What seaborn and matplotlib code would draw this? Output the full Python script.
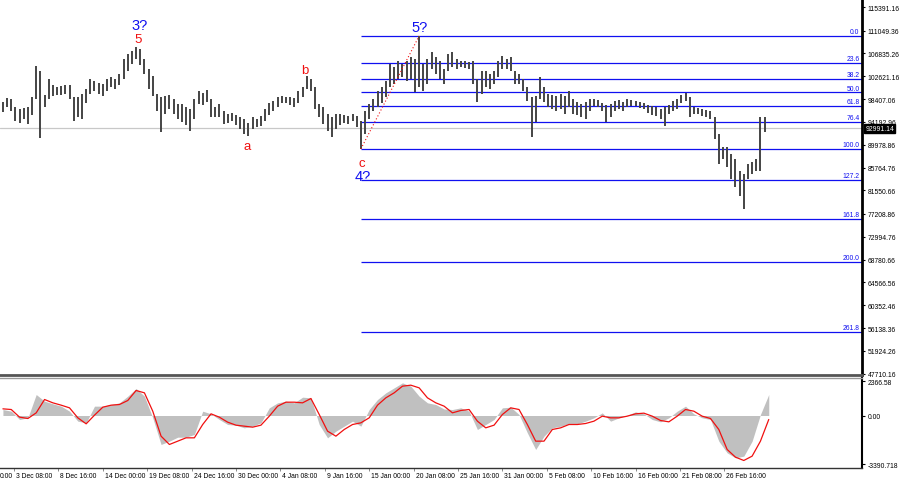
import numpy as np
import matplotlib
matplotlib.use('Agg')
import matplotlib.pyplot as plt
import matplotlib.transforms as mtransforms
import seaborn as sns

# 12h bars, the first one on 2 Dec 00:00 (day 4 counted from 28 Nov 00:00)
bar_high = [97860, 98600, 98420, 96940, 96570, 96750, 96940, 98780, 104510, 103580,
            99150, 102110, 101000, 100630, 100820, 101000, 101000, 98780, 98780, 99340,
            100260, 102110, 101740, 101370, 101180, 102110, 102480, 102110, 103030, 105800,
            106720, 107280, 108010, 107650, 105800, 103950, 102660, 99340, 98780, 98970,
            99150, 98420, 97490, 97490, 96940, 96570, 98420, 99890, 99520, 100080,
            98420, 96940, 97490, 96200, 95650, 95830, 95460, 95090, 94720, 93980,
            95090, 94720, 95280, 96570, 97680, 98050, 98780, 98970, 98780, 98780,
            98600, 99890, 100630, 102660, 102110, 100630, 97490, 96940, 95650, 95090,
            95650, 95650, 95460, 95280, 95650, 95280, 94350, 96200, 97490, 98420,
            99890, 100630, 101740, 104880, 104320, 105430, 104880, 105430, 106170, 105800,
            110050, 104880, 105800, 107090, 106170, 105430, 103950, 106720, 107090, 105800,
            105430, 105430, 105250, 105430, 102110, 103580, 103580, 103030, 103580, 105430,
            106350, 105800, 106170, 103580, 103030, 102110, 100630, 98780, 98970, 102480,
            100630, 99340, 99150, 98970, 99340, 98970, 99890, 98420, 97860, 97490,
            97860, 98420, 98420, 98230, 97680, 97310, 97490, 98050, 98230, 97860,
            98420, 98230, 98050, 97860, 97680, 97310, 97120, 96940, 96570, 96940,
            97310, 98050, 98420, 99150, 99520, 98780, 96940, 96750, 96570, 96380,
            96200, 95090, 91950, 89550, 89550, 88260, 87340, 85120, 84570, 86420,
            86790, 87340, 95090, 95090]
bar_low = [96020, 96940, 96200, 94350, 93980, 94720, 93800, 95460, 98420, 91220,
           96940, 98420, 98970, 99150, 99150, 99340, 98420, 94350, 95090, 94720,
           97680, 99340, 99890, 99340, 98970, 99890, 100630, 100260, 101000, 102110,
           103580, 104880, 105800, 104690, 103030, 100260, 98970, 96200, 92320, 95650,
           96570, 95650, 94720, 94170, 93620, 92510, 94720, 97490, 97310, 97860,
           95090, 95090, 95090, 93800, 93980, 94350, 93620, 92880, 91950, 91590,
           92880, 93250, 93430, 94350, 95460, 96200, 96940, 97680, 97680, 97310,
           96940, 97680, 98780, 100260, 99890, 96570, 95090, 93800, 92510, 91400,
           92880, 93620, 93980, 93800, 94350, 93250, 89190, 91950, 94720, 96200,
           96940, 97680, 98780, 100630, 101180, 102110, 102480, 101740, 102110, 99710,
           100630, 99890, 101180, 103950, 103030, 102110, 101180, 103580, 104320, 103950,
           104320, 104140, 103950, 101180, 97860, 99340, 100630, 100260, 101180, 102480,
           103950, 103950, 103580, 101180, 101180, 99890, 98050, 91400, 94170, 98420,
           97860, 96940, 96570, 96200, 96570, 95650, 96940, 95650, 95460, 95090,
           94720, 96200, 97120, 96940, 96200, 94170, 95090, 96200, 96570, 96200,
           96940, 97120, 97120, 96750, 96570, 95830, 95460, 95280, 94720, 93430,
           95650, 96200, 96570, 97680, 98050, 95090, 95650, 95650, 95280, 95090,
           94720, 91030, 86420, 87340, 85860, 83650, 82170, 80510, 78110, 83650,
           84570, 85120, 85120, 92320]
last_close = 92991.14

fib_levels = [0.0, 23.6, 38.2, 50.0, 61.8, 76.4, 100.0, 127.2, 161.8, 200.0, 261.8]

# MACD, one reading per day starting 2 Dec
macd_hist = [416, 300, -277, -160, 1457, 995, 810, 648, 300, -393,
             -509, 648, 648, 763, 879, 1342, 1874, 1342, -162, -2012,
             -1781, -1504, -1504, -1318, 300, 116, -277, -625, -671, -856,
             -740, -509, 532, 879, 995, 879, 1272, 1226, -625, -1550,
             -1087, -740, -393, -740, 416, 1110, 1573, 1920, 2267, 2036,
             1342, 879, 763, 450, 416, 532, 300, -971, -625, -277,
             532, 578, 69, -1203, -2359, -1434, -856, -740, -578, -578,
             -393, -162, 185, -393, -162, 23, 254, 116, -277, -440,
             -162, 300, 648, 116, -162, -277, -1781, -2590, -2937, -2821,
             -1781, 69, 1457]
macd_signal = [462, 416, -115, -208, 185, 1110, 879, 717, 532, -162,
               -578, 23, 578, 717, 763, 1041, 1735, 1573, 300, -1434,
               -2012, -1781, -1550, -1550, -625, 116, -116, -463, -671, -740,
               -810, -671, -46, 648, 925, 925, 879, 1180, 69, -1087,
               -1434, -971, -625, -509, -162, 717, 1226, 1573, 2036, 2105,
               1920, 1226, 879, 648, 185, 347, 416, -393, -856, -671,
               69, 532, 416, -625, -1781, -1781, -971, -856, -625, -625,
               -555, -393, -46, -162, -162, -46, 116, 162, -46, -347,
               -440, -46, 416, 300, -46, -208, -971, -2359, -2891, -3122,
               -2821, -1781, -277]

price_ticks = [115391.16, 111049.36, 106835.26, 102621.16, 98407.06, 94192.96,
               89978.86, 85764.76, 81550.66, 77208.86, 72994.76, 68780.66,
               64566.56, 60352.46, 56138.36, 51924.26, 47710.16]
macd_ticks = [2366.58, 0.00, -3390.718]
macd_tick_labels = ['2366.58', '0.00', '-3390.718']

# the first label is cut by the left edge in the original, only its time shows
date_labels = ['0:00', '3 Dec 08:00', '8 Dec 16:00', '14 Dec 00:00', '19 Dec 08:00',
               '24 Dec 16:00', '30 Dec 00:00', '4 Jan 08:00', '9 Jan 16:00', '15 Jan 00:00',
               '20 Jan 08:00', '25 Jan 16:00', '31 Jan 00:00', '5 Feb 08:00', '10 Feb 16:00',
               '16 Feb 00:00', '21 Feb 08:00', '26 Feb 16:00']

sns.set_theme(style='white')
plt.rcParams['font.family'] = ['Liberation Sans', 'DejaVu Sans']

bar_days = 4 + 0.5 * np.arange(len(bar_high))
macd_days = 4 + np.arange(len(macd_hist))
date_days = 16 / 3 * np.arange(len(date_labels))

blue = '#1010f0'
red = '#f01010'
small = 4.9
x_start, x_end = 3.65, 107.2

fig = plt.figure(figsize=(9, 4.85), dpi=100)
fig.patch.set_facecolor('white')
ax = fig.add_axes([0, 1 - 376 / 485, 862 / 900, 376 / 485])
ax2 = fig.add_axes([0, 1 - 469 / 485, 862 / 900, 90 / 485], sharex=ax)

# price bars
ax.axhline(last_close, color='#c8c8c8', lw=0.9, zorder=1)
ax.vlines(bar_days, bar_low, bar_high, color='#444444', lw=1.4, zorder=3)

# fibonacci grid from wave 4? low to wave 5? high
i_lo, i_hi = 86, 100
lo, hi = bar_low[i_lo], bar_high[i_hi]
for lvl in fib_levels:
    p = hi - (hi - lo) * lvl / 100
    ax.hlines(p, bar_days[i_lo], x_end, color=blue, lw=0.9, zorder=2)
    ax.annotate(f'{lvl:.1f}', xy=(0.997, p), xycoords=('axes fraction', 'data'),
                xytext=(0, 0.6), textcoords='offset points', ha='right', va='bottom',
                fontsize=small, color=blue)
sns.lineplot(x=[bar_days[i_lo], bar_days[i_hi]], y=[lo, hi], ax=ax,
             color=red, lw=0.8, linestyle=(0, (1, 2)), zorder=4)

# wave labels
waves = [('3?', 32, 'high', blue, 2.5, 16, 10.5),
         ('5', 32, 'high', red, 1.5, 6, 9.5),
         ('b', 73, 'high', red, -1.5, 4.5, 9.5),
         ('a', 59, 'low', red, -1, -7.5, 9.5),
         ('c', 86, 'low', red, 0.5, -10, 9.5),
         ('4?', 86, 'low', blue, 1.5, -19.5, 10.5),
         ('5?', 100, 'high', blue, 0.5, 6.5, 10.5)]
for txt, i, side, col, dx, dy, fs in waves:
    yv = bar_high[i] if side == 'high' else bar_low[i]
    ax.annotate(txt, xy=(bar_days[i], yv), xytext=(dx, dy), textcoords='offset points',
                ha='center', va='center', fontsize=fs, color=col)

ax.set_xlim(x_start, x_end)
ax.set_ylim(47466, 116875)
ax.yaxis.tick_right()
ax.set_yticks(price_ticks)
ax.set_yticklabels([f'{v:.2f}' for v in price_ticks])
ax.tick_params(axis='y', length=2.5, width=0.8, pad=1.5, labelsize=small, colors='black', right=True)
ax.tick_params(axis='x', bottom=False, labelbottom=False)
for s in ['top', 'left']:
    ax.spines[s].set_visible(False)
ax.spines['right'].set_color('black')
ax.spines['right'].set_linewidth(2)
ax.spines['bottom'].set_color('#555555')
ax.spines['bottom'].set_linewidth(2)
ax.set_xlabel('')
ax.set_ylabel('')

# current price box
ax.text(1.004, last_close, f'{last_close:.2f}',
        transform=mtransforms.blended_transform_factory(ax.transAxes, ax.transData),
        ha='left', va='center', fontsize=small, color='white', clip_on=False,
        bbox=dict(boxstyle='square,pad=0.15', fc='black', ec='black'))

# MACD panel
ax2.fill_between(macd_days, 0, macd_hist, color='#c0c0c0', lw=0)
sns.lineplot(x=macd_days, y=macd_signal, ax=ax2, color=red, lw=0.9)
ax2.set_ylim(-3644, 2603)
ax2.yaxis.tick_right()
ax2.set_yticks(macd_ticks)
ax2.set_yticklabels(macd_tick_labels)
ax2.tick_params(axis='y', length=2.5, width=0.8, pad=1.5, labelsize=small, colors='black', right=True)
ax2.set_xticks(date_days[1:])
ax2.set_xticklabels([])
ax2.tick_params(axis='x', bottom=True, length=2.5, width=0.6, color='#777777')
ax2.spines['left'].set_visible(False)
ax2.spines['top'].set_color('#999999')
ax2.spines['top'].set_linewidth(1)
ax2.spines['right'].set_color('black')
ax2.spines['right'].set_linewidth(1.5)
ax2.spines['bottom'].set_color('#333333')
ax2.spines['bottom'].set_linewidth(1)
ax2.set_xlabel('')
ax2.set_ylabel('')

trans = mtransforms.blended_transform_factory(ax2.transData, ax2.transAxes)
for d, lab in zip(date_days, date_labels):
    xd = max(d + 0.25, x_start + 0.02)
    ax2.text(xd, -0.085, lab, transform=trans, ha='left', va='center',
             fontsize=small, color='black', clip_on=False)

fig.savefig('out.png', dpi=100, facecolor='white')
